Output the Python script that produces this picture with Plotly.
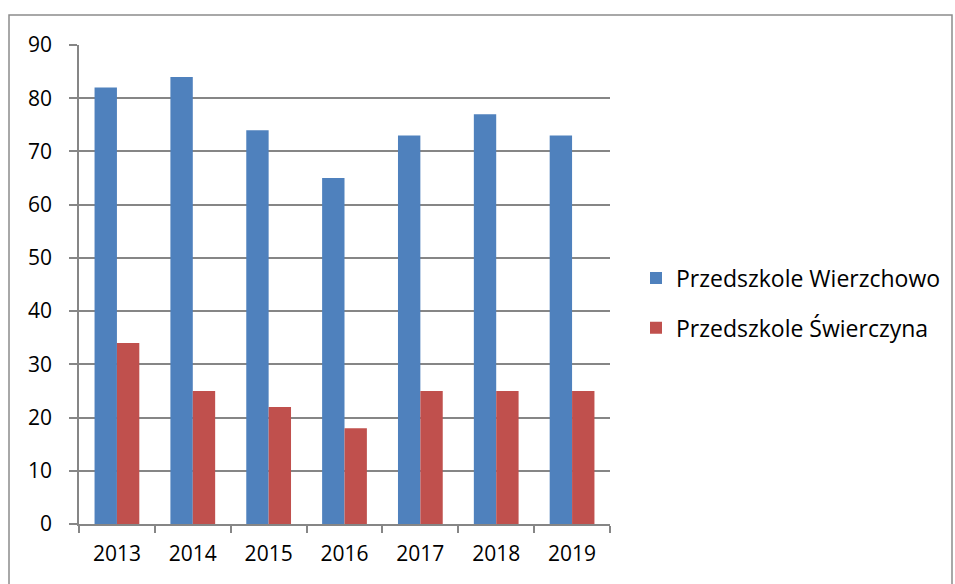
import plotly.graph_objects as go

years = ["2013", "2014", "2015", "2016", "2017", "2018", "2019"]
wierzchowo = [82, 84, 74, 65, 73, 77, 73]
swierczyna = [34, 25, 22, 18, 25, 25, 25]
names = ["Przedszkole Wierzchowo", "Przedszkole Świerczyna"]
colors = ["#4F81BD", "#C0504D"]

FONT = "Open Sans"
grid = "#868686"

fig = go.Figure()
fig.add_trace(go.Bar(x=years, y=wierzchowo, name=names[0], marker_color=colors[0],
                     marker_line_width=0, legendgroup="a"))
fig.add_trace(go.Bar(x=years, y=swierczyna, name=names[1], marker_color=colors[1],
                     marker_line_width=0, legendgroup="b"))

L, R, T, B = 79, 345, 45, 60
W, H = 955, 584
pw, ph = W - L - R, H - T - B

def px_x(p):
    return (p - L) / pw

def px_y(p):
    return (H - B - p) / ph

fig.add_shape(type="rect", xref="paper", yref="paper",
              x0=px_x(9), x1=px_x(952), y0=px_y(600), y1=px_y(15),
              line=dict(color="#8c8c8c", width=1.5), fillcolor="rgba(0,0,0,0)", layer="below")

fig.update_layout(
    width=W, height=H, autosize=False,
    margin=dict(l=L, r=R, t=T, b=B, autoexpand=False),
    paper_bgcolor="white", plot_bgcolor="white",
    barmode="group", bargap=0.41, bargroupgap=0,
    font=dict(family=FONT, size=20, color="#000000"),
    legend=dict(xref="container", yref="container", x=636 / W, y=1 - 303 / H,
                xanchor="left", yanchor="middle",
                font=dict(family=FONT, size=23), traceorder="grouped",
                tracegroupgap=17, itemwidth=30, bgcolor="rgba(0,0,0,0)"),
    xaxis=dict(type="category", showgrid=False, showline=True, linecolor=grid, linewidth=1.5,
               ticks="outside", tickson="boundaries", ticklen=7, tickcolor=grid, tickwidth=1.5,
               tickfont=dict(family=FONT, size=21), ticklabelstandoff=10),
    yaxis=dict(range=[0, 90], dtick=10, showgrid=True, gridcolor=grid, gridwidth=1.5,
               showline=True, linecolor=grid, linewidth=1.5, zeroline=False,
               ticks="outside", ticklen=8, tickcolor=grid, tickwidth=1.5,
               tickfont=dict(family=FONT, size=21), ticklabelstandoff=13),
)

fig.write_html(
    "out.html",
    config={"displayModeBar": False, "responsive": False},
    post_script="document.body.style.margin='0';document.body.style.overflow='hidden';",
)
